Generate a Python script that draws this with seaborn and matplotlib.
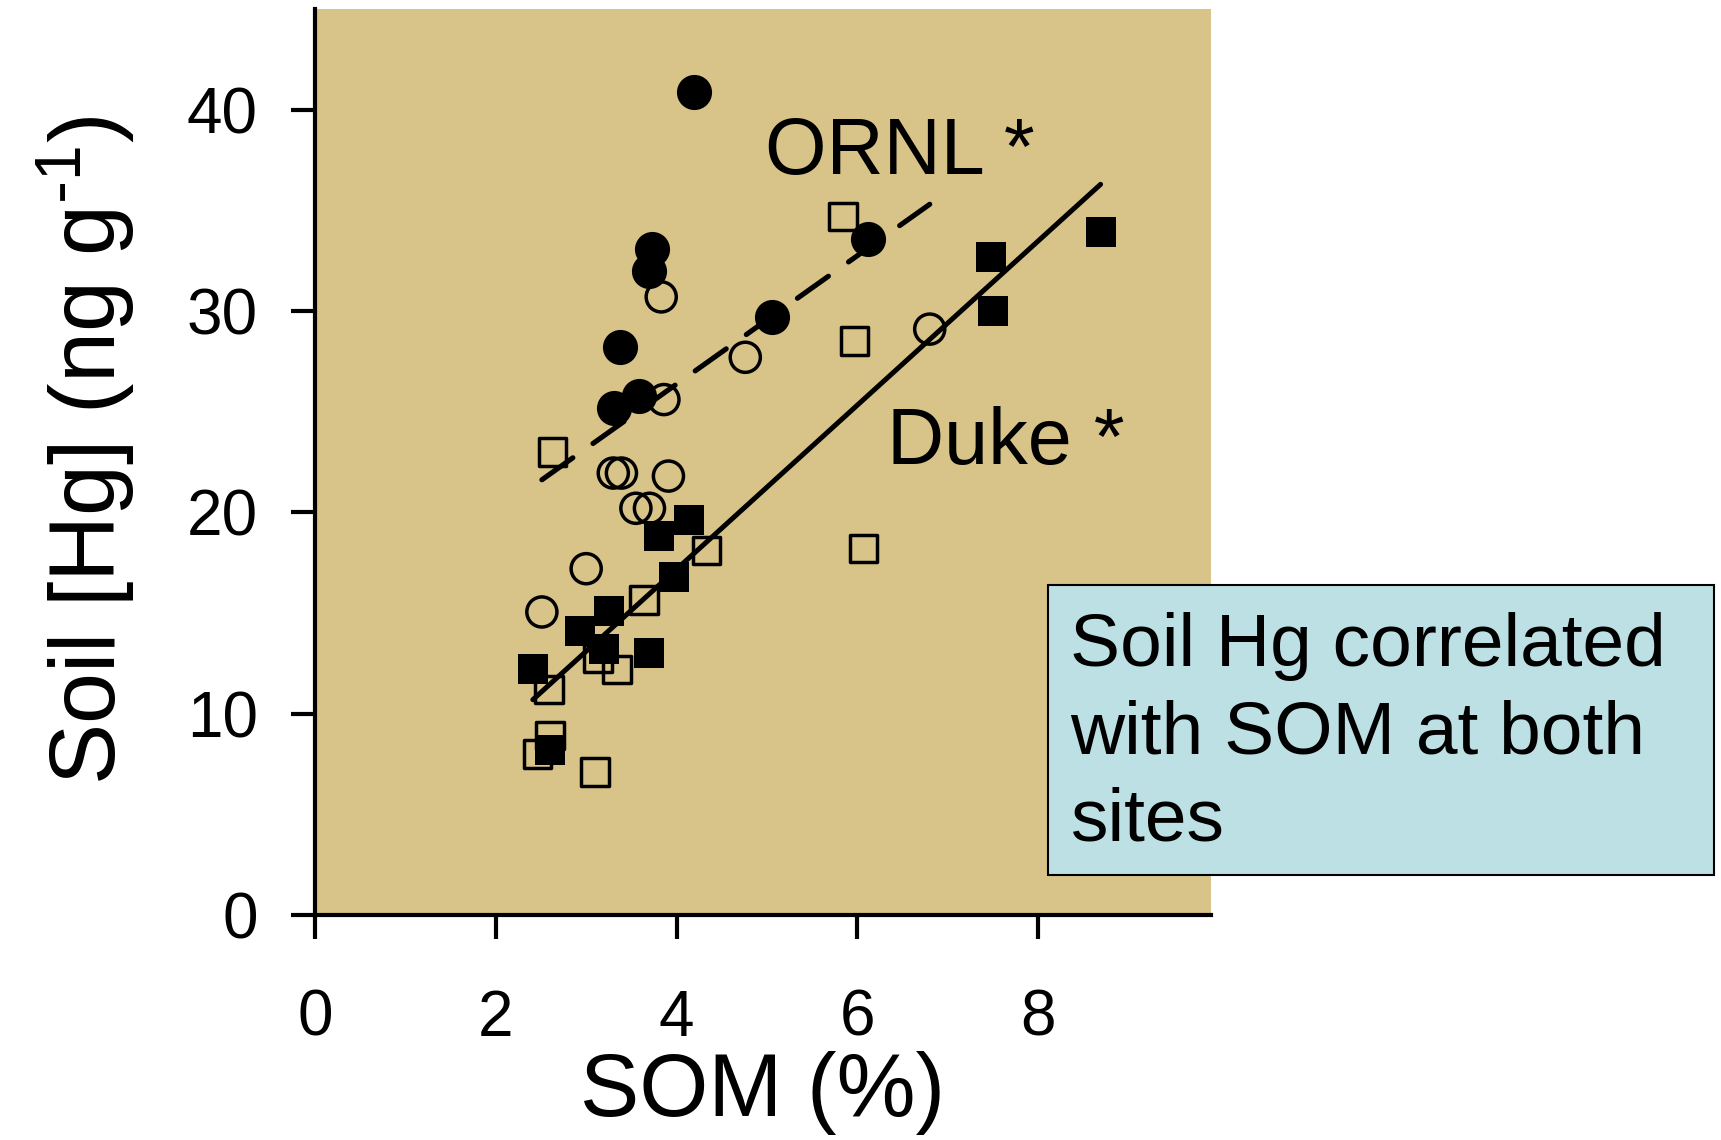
import matplotlib
matplotlib.use("Agg")
import matplotlib.pyplot as plt
from matplotlib.patches import Rectangle
import seaborn as sns
import pandas as pd

# ORNL (circles): filled and open symbols
ornl_filled_som = [4.19, 3.73, 3.70, 6.12, 5.06, 3.37, 3.58, 3.31]
ornl_filled_hg = [40.9, 33.1, 32.0, 33.6, 29.7, 28.2, 25.8, 25.2]
ornl_open_som = [3.83, 4.76, 3.86, 6.80, 3.30, 3.39, 3.91, 3.55, 3.70, 3.00, 2.51]
ornl_open_hg = [30.7, 27.7, 25.6, 29.1, 21.95, 21.95, 21.8, 20.2, 20.2, 17.2, 15.05]

# Duke (squares): filled and open symbols
duke_filled_som = [8.69, 7.48, 7.50, 4.14, 3.81, 3.97, 3.25, 2.93, 3.20, 3.69, 2.41, 2.60]
duke_filled_hg = [33.9, 32.7, 30.0, 19.6, 18.8, 16.8, 15.1, 14.1, 13.2, 13.0, 12.2, 8.2]
duke_open_som = [5.84, 5.97, 2.63, 4.33, 6.07, 3.64, 3.13, 3.34, 2.59, 2.60, 2.46, 3.10]
duke_open_hg = [34.7, 28.5, 23.0, 18.1, 18.2, 15.65, 12.75, 12.2, 11.2, 8.9, 8.0, 7.1]

x_ticks = [0, 2, 4, 6, 8]
y_ticks = [0, 10, 20, 30, 40]

TAN = "#D8C488"
BOX = "#BCE0E3"

sns.set_style("ticks")
plt.rcParams["font.family"] = ["Liberation Sans", "DejaVu Sans"]
plt.rcParams["mathtext.default"] = "regular"
plt.rcParams["text.color"] = "black"
plt.rcParams["axes.labelcolor"] = "black"
plt.rcParams["xtick.color"] = "black"
plt.rcParams["ytick.color"] = "black"

ornl_f = pd.DataFrame({"som": ornl_filled_som, "hg": ornl_filled_hg})
ornl_o = pd.DataFrame({"som": ornl_open_som, "hg": ornl_open_hg})
duke_f = pd.DataFrame({"som": duke_filled_som, "hg": duke_filled_hg})
duke_o = pd.DataFrame({"som": duke_open_som, "hg": duke_open_hg})
ornl_all = pd.concat([ornl_f, ornl_o], ignore_index=True)
duke_all = pd.concat([duke_f, duke_o], ignore_index=True)

fig = plt.figure(figsize=(17.21, 11.40), dpi=100)
ax = fig.add_axes([0.1830, 0.1974, 0.5206, 0.7947])
ax.set_facecolor(TAN)

# open symbols first, filled ones on top
sns.scatterplot(data=duke_o, x="som", y="hg", marker="s", s=390,
                facecolor="none", edgecolor="black", linewidth=2.5, ax=ax, zorder=3)
sns.scatterplot(data=ornl_o, x="som", y="hg", marker="o", s=470,
                facecolor="none", edgecolor="black", linewidth=2.5, ax=ax, zorder=3)
sns.scatterplot(data=duke_f, x="som", y="hg", marker="s", s=470,
                color="black", linewidth=0, ax=ax, zorder=4)
sns.scatterplot(data=ornl_f, x="som", y="hg", marker="o", s=640,
                color="black", linewidth=0, ax=ax, zorder=4)

# regression lines per site
sns.regplot(data=duke_all, x="som", y="hg", scatter=False, ci=None, truncate=True,
            color="black", ax=ax)
duke_line = ax.lines[-1]
duke_line.set_linewidth(3.6)
duke_line.set_solid_capstyle("round")
duke_line.set_zorder(5)

sns.regplot(data=ornl_all, x="som", y="hg", scatter=False, ci=None, truncate=True,
            color="black", ax=ax)
ornl_line = ax.lines[-1]
ornl_line.set_linewidth(3.7)
ornl_line.set_dashes((7.4, 4.8))
ornl_line.set_dash_capstyle("round")
ornl_line.set_zorder(5)

ax.text(4.98, 36.8, "ORNL *", fontsize=57, ha="left", va="baseline")
ax.text(6.33, 22.4, "Duke *", fontsize=57, ha="left", va="baseline")

ax.set_xlim(0, 9.91)
ax.set_ylim(0, 45)
ax.set_xticks(x_ticks)
ax.set_yticks(y_ticks)
ax.tick_params(axis="both", direction="out", length=17, width=3, labelsize=46, color="black")
ax.tick_params(axis="x", pad=36)
ax.tick_params(axis="y", pad=24)
sns.despine(ax=ax)
for side in ["left", "bottom"]:
    ax.spines[side].set_linewidth(3)
    ax.spines[side].set_color("black")

ax.set_xlabel("SOM (%)", fontsize=64)
ax.set_ylabel("Soil [Hg] (ng g$^{\\text{-}1}$)", fontsize=66)
ax.xaxis.set_label_coords(0.5, -0.150)
ax.yaxis.set_label_coords(-0.199, 0.513)

# text box on the right
fig.add_artist(Rectangle((0.609, 0.2325), 0.387, 0.254, transform=fig.transFigure,
                         facecolor=BOX, edgecolor="black", linewidth=1.5, zorder=10))
fig.text(0.622, 0.463, "Soil Hg correlated\nwith SOM at both\nsites", fontsize=54,
         ha="left", va="top", linespacing=1.34, zorder=11)

fig.savefig("out.png", dpi=100)
